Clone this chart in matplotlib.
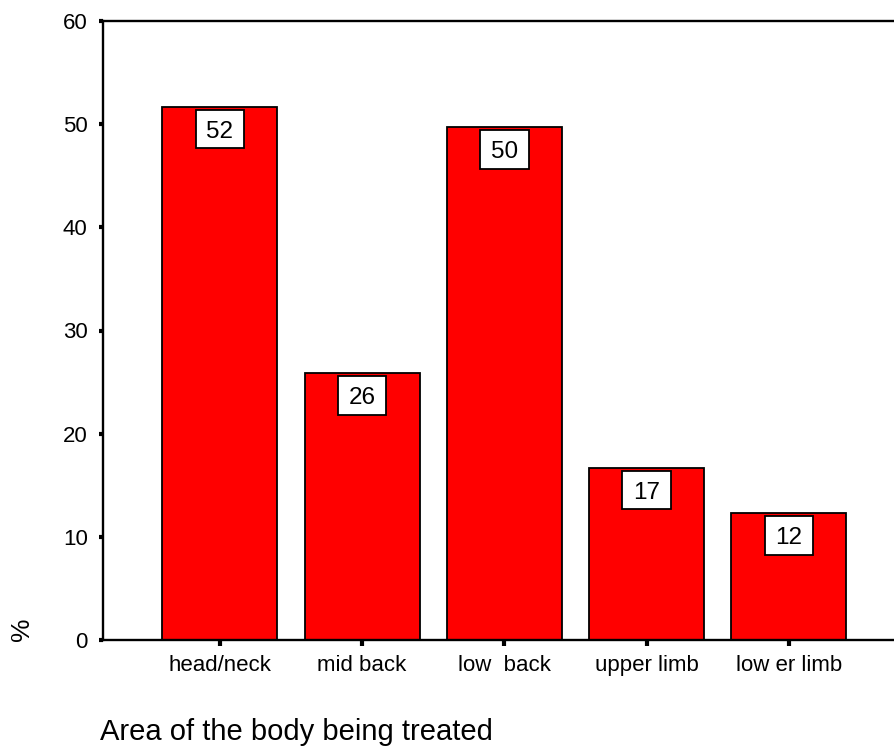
import numpy as np
import matplotlib
matplotlib.use("Agg")
import matplotlib.pyplot as plt
from matplotlib.patches import Rectangle

plt.rcParams['font.family'] = ['Liberation Sans', 'DejaVu Sans']

categories = ["head/neck", "mid back", "low  back", "upper limb", "low er limb"]
percent = [51.7, 25.9, 49.7, 16.7, 12.3]
bar_labels = ["52", "26", "50", "17", "12"]
yticks = [0, 10, 20, 30, 40, 50, 60]

W, H = 894, 747
fig = plt.figure(figsize=(W / 100, H / 100), dpi=100)
ax = fig.add_axes([103 / W, (H - 640) / H, 1 - 103 / W + 0.02, (640 - 21) / H])

x = np.arange(len(categories))
ax.bar(x, percent, width=0.81, color="#ff0000", edgecolor="black", linewidth=1.3, zorder=2)

# white label boxes hanging just under each bar top
box_w, box_h, gap = 0.34, 3.75, 0.3
for xi, v, lab in zip(x, percent, bar_labels):
    ax.add_patch(Rectangle((xi - box_w / 2, v - gap - box_h), box_w, box_h,
                           fc="white", ec="black", lw=1.3, zorder=3))
    ax.text(xi, v - gap - box_h / 2, lab, ha="center", va="center_baseline",
            fontsize=17.5, zorder=4)

ax.set_xlim(-0.822, 4.74 + 0.02 * W / 142.25)
ax.set_ylim(0, 60)
ax.set_yticks(yticks)
ax.set_xticks(x)
ax.set_xticklabels(categories)

for s in ["left", "bottom", "top"]:
    ax.spines[s].set_linewidth(1.7)
ax.spines["right"].set_visible(False)

ax.tick_params(axis="y", direction="out", length=3, width=3, pad=8, labelsize=16)
ax.tick_params(axis="x", direction="out", length=4, width=3, pad=7, labelsize=16)

fig.text(100 / W, 1 - 740 / H, "Area of the body being treated", fontsize=21,
         ha="left", va="baseline")
fig.text(22 / W, 1 - 629 / H, "%", fontsize=19, rotation=90, ha="center", va="center")

fig.savefig("out.png", dpi=100)
